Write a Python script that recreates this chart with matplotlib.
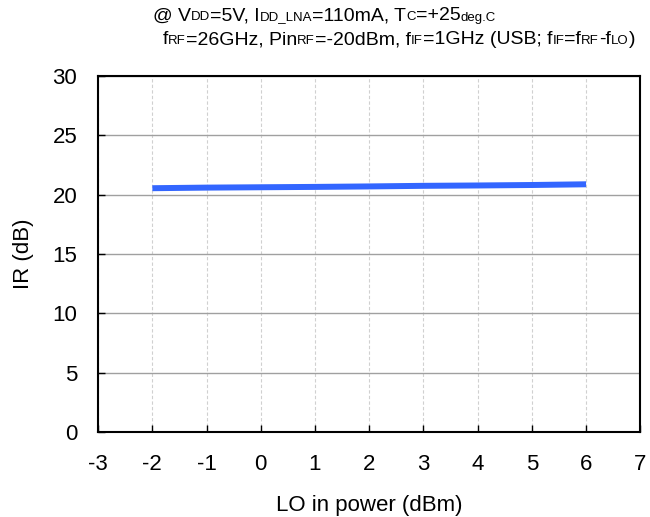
import matplotlib
matplotlib.use("Agg")
import matplotlib.pyplot as plt
from matplotlib.offsetbox import TextArea, HPacker, AnchoredOffsetbox

lo_power = [-2, -1, 0, 1, 2, 3, 4, 5, 6]
ir_db = [20.55, 20.6, 20.63, 20.66, 20.7, 20.75, 20.78, 20.82, 20.88]
x_ticks = list(range(-3, 8))
y_ticks = list(range(0, 31, 5))

plt.rcParams['font.family'] = ['Liberation Sans', 'DejaVu Sans']
fig = plt.figure(figsize=(6.5, 5.17), dpi=100)
ax = fig.add_axes([0.151, 0.164, 0.834, 0.689])

ax.plot(lo_power, ir_db, color='#3366FF', lw=4.3, solid_capstyle='butt')
ax.set_xlim(-3, 7)
ax.set_ylim(0, 30)
ax.set_xticks(x_ticks)
ax.set_yticks(y_ticks)
ax.set_xticklabels([str(v) for v in x_ticks], fontsize=16)
ax.set_yticklabels([str(v) for v in y_ticks], fontsize=16)
ax.tick_params(axis='x', direction='in', length=5, width=1, pad=16)
ax.tick_params(axis='y', direction='in', length=5, width=1, pad=15)
ax.yaxis.grid(True, color='#a0a0a0', lw=1)
ax.xaxis.grid(True, color='#d0d0d0', lw=0.8, ls=(0, (3, 2)))
ax.set_axisbelow(True)
for s in ax.spines.values():
    s.set_linewidth(1.5)
    s.set_color('black')
ax.set_xlabel('LO in power (dBm)', fontsize=16, labelpad=14)
ax.set_ylabel('IR (dB)', fontsize=16, labelpad=13)

def rich(parts, x, y):
    boxes = []
    for txt, small in parts:
        boxes.append(TextArea(txt, textprops=dict(fontsize=9.5 if small else 14, color='black')))
    pk = HPacker(children=boxes, align='baseline', pad=0, sep=0)
    ab = AnchoredOffsetbox(loc='center left', child=pk, bbox_to_anchor=(x, y),
                           bbox_transform=fig.transFigure, frameon=False, pad=0, borderpad=0)
    fig.add_artist(ab)

rich([('@ V', False), ('DD', True), ('=5V, I', False), ('DD_LNA', True), ('=110mA, T', False),
      ('C', True), ('=+25', False), ('deg.C', True)], 153/650, 1 - 16/517)
rich([('f', False), ('RF', True), ('=26GHz, Pin', False), ('RF', True), ('=-20dBm, f', False),
      ('IF', True), ('=1GHz (USB; f', False), ('IF', True), ('=f', False), ('RF', True),
      ('-f', False), ('LO', True), (')', False)], 163/650, 1 - 40/517)

fig.savefig('out.png', dpi=100)
